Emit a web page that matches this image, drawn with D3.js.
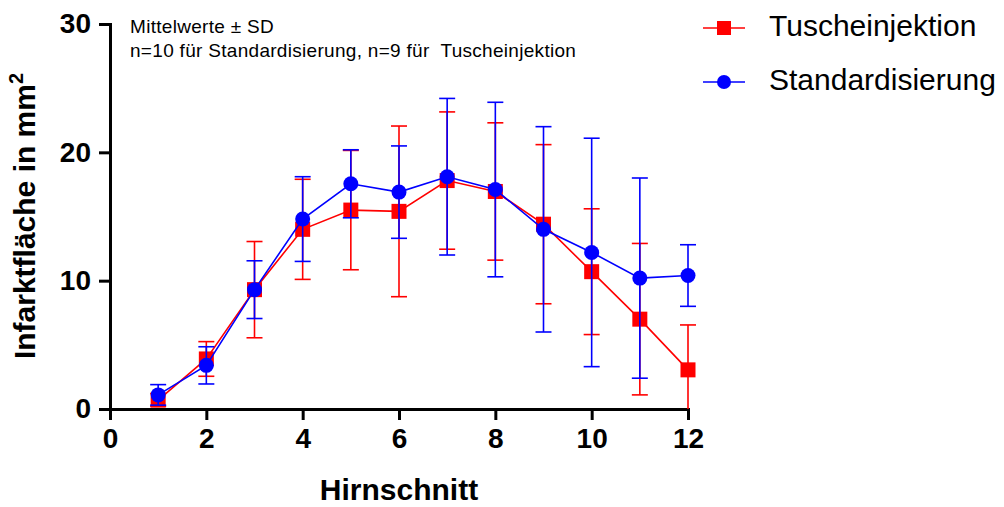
<!DOCTYPE html>
<html>
<head>
<meta charset="utf-8">
<script src="https://cdn.jsdelivr.net/npm/d3@7"></script>
<style>
  body { margin: 0; background: #fff; }
  svg { display: block; font-family: "Liberation Sans", Arial, sans-serif; }
  .axis path, .axis line { stroke: #000; stroke-width: 3px; }
  .axis text { font-size: 28px; font-weight: bold; fill: #000; }
  .note { white-space: pre; }
</style>
</head>
<body>
<svg id="chart" width="1004" height="507"></svg>
<script>
// Hirnschnitt 1..12
var slices = [1, 2, 3, 4, 5, 6, 7, 8, 9, 10, 11, 12];
var tuscheMean = [0.7, 3.9, 9.3, 14.0, 15.5, 15.4, 17.8, 16.95, 14.4, 10.7, 7.0, 3.05];
var tuscheSD = [0.5, 1.35, 3.75, 3.9, 4.65, 6.65, 5.35, 5.35, 6.2, 4.9, 5.9, 3.5];
var standardMean = [1.1, 3.4, 9.3, 14.8, 17.55, 16.9, 18.1, 17.1, 14.0, 12.2, 10.2, 10.4];
var standardSD = [0.8, 1.45, 2.25, 3.3, 2.65, 3.6, 6.1, 6.8, 8.0, 8.9, 7.8, 2.4];
var xTicks = [0, 2, 4, 6, 8, 10, 12];
var yTicks = [0, 10, 20, 30];
var seriesNames = ["Tuscheinjektion", "Standardisierung"];
var notes = ["Mittelwerte \u00b1 SD", "n=10 f\u00fcr Standardisierung, n=9 f\u00fcr  Tuscheinjektion"];

var svg = d3.select("#chart");

var xScale = d3.scaleLinear().domain([0, 12]).range([110, 688]);
var yScale = d3.scaleLinear().domain([0, 30]).range([409, 24]);

// axes
svg.append("g")
	.attr("class", "axis")
	.attr("transform", "translate(0," + yScale(0) + ")")
	.call(d3.axisBottom(xScale).tickValues(xTicks).tickSize(11).tickSizeOuter(0).tickPadding(8));

svg.append("g")
	.attr("class", "axis")
	.attr("transform", "translate(" + xScale(0) + ",0)")
	.call(d3.axisLeft(yScale).tickValues(yTicks).tickSize(11).tickSizeOuter(0).tickPadding(8));

svg.selectAll(".axis path").attr("stroke-linecap", "square");

// axis titles
svg.append("text")
	.attr("x", (xScale(0) + xScale(12)) / 2)
	.attr("y", 500)
	.attr("text-anchor", "middle")
	.style("font-size", "30px")
	.style("font-weight", "bold")
	.text("Hirnschnitt");

var yLab = svg.append("text")
	.attr("transform", "translate(35," + 216 + ") rotate(-90)")
	.attr("text-anchor", "middle")
	.style("font-size", "30px")
	.style("font-weight", "bold");
yLab.append("tspan").text("Infarktfl\u00e4che in mm");
yLab.append("tspan").attr("dy", -12).style("font-size", "20px").text("2");

// annotation
svg.selectAll(".note")
	.data(notes)
	.enter().append("text")
	.attr("class", "note")
	.attr("x", 130)
	.attr("y", function(d, i) { return 33 + i * 24; })
	.style("font-size", "19px")
	.style("letter-spacing", "0.3px")
	.text(function(d) { return d; });

function drawSeries(mean, sd, color, shape) {
	var g = svg.append("g");
	var capW = 8;
	// error bars
	slices.forEach(function(s, i) {
		var x = xScale(s);
		var hi = mean[i] + sd[i];
		var lo = mean[i] - sd[i];
		var loC = Math.max(lo, 0);
		g.append("line")
			.attr("x1", x).attr("x2", x)
			.attr("y1", yScale(hi)).attr("y2", yScale(loC))
			.attr("stroke", color).attr("stroke-width", 1.6);
		g.append("line")
			.attr("x1", x - capW).attr("x2", x + capW)
			.attr("y1", yScale(hi)).attr("y2", yScale(hi))
			.attr("stroke", color).attr("stroke-width", 1.6);
		if (lo >= 0) {
			g.append("line")
				.attr("x1", x - capW).attr("x2", x + capW)
				.attr("y1", yScale(lo)).attr("y2", yScale(lo))
				.attr("stroke", color).attr("stroke-width", 1.6);
		}
	});
	// line
	var line = d3.line()
		.x(function(d, i) { return xScale(slices[i]); })
		.y(function(d) { return yScale(d); });
	g.append("path")
		.datum(mean)
		.attr("d", line)
		.attr("fill", "none")
		.attr("stroke", color)
		.attr("stroke-width", 1.6);
	// markers
	if (shape == "square") {
		g.selectAll("rect")
			.data(mean)
			.enter().append("rect")
			.attr("x", function(d, i) { return xScale(slices[i]) - 7.5; })
			.attr("y", function(d) { return yScale(d) - 7.5; })
			.attr("width", 15)
			.attr("height", 15)
			.attr("fill", color);
	} else {
		g.selectAll("circle")
			.data(mean)
			.enter().append("circle")
			.attr("cx", function(d, i) { return xScale(slices[i]); })
			.attr("cy", function(d) { return yScale(d); })
			.attr("r", 7.5)
			.attr("fill", color);
	}
}

drawSeries(tuscheMean, tuscheSD, "#ff0000", "square");
drawSeries(standardMean, standardSD, "#0000ff", "circle");

// legend
var legendColors = ["#ff0000", "#0000ff"];
var legendY = [28, 82];
seriesNames.forEach(function(name, i) {
	var lg = svg.append("g").attr("transform", "translate(0," + legendY[i] + ")");
	lg.append("line")
		.attr("x1", 703).attr("x2", 745)
		.attr("y1", 0).attr("y2", 0)
		.attr("stroke", legendColors[i]).attr("stroke-width", 1.6);
	if (i == 0) {
		lg.append("rect").attr("x", 717).attr("y", -7).attr("width", 14).attr("height", 14).attr("fill", legendColors[i]);
	} else {
		lg.append("circle").attr("cx", 724).attr("cy", 0).attr("r", 7).attr("fill", legendColors[i]);
	}
	lg.append("text")
		.attr("x", 769)
		.attr("y", 8)
		.style("font-size", "30px")
		.text(name);
});
</script>
</body>
</html>
